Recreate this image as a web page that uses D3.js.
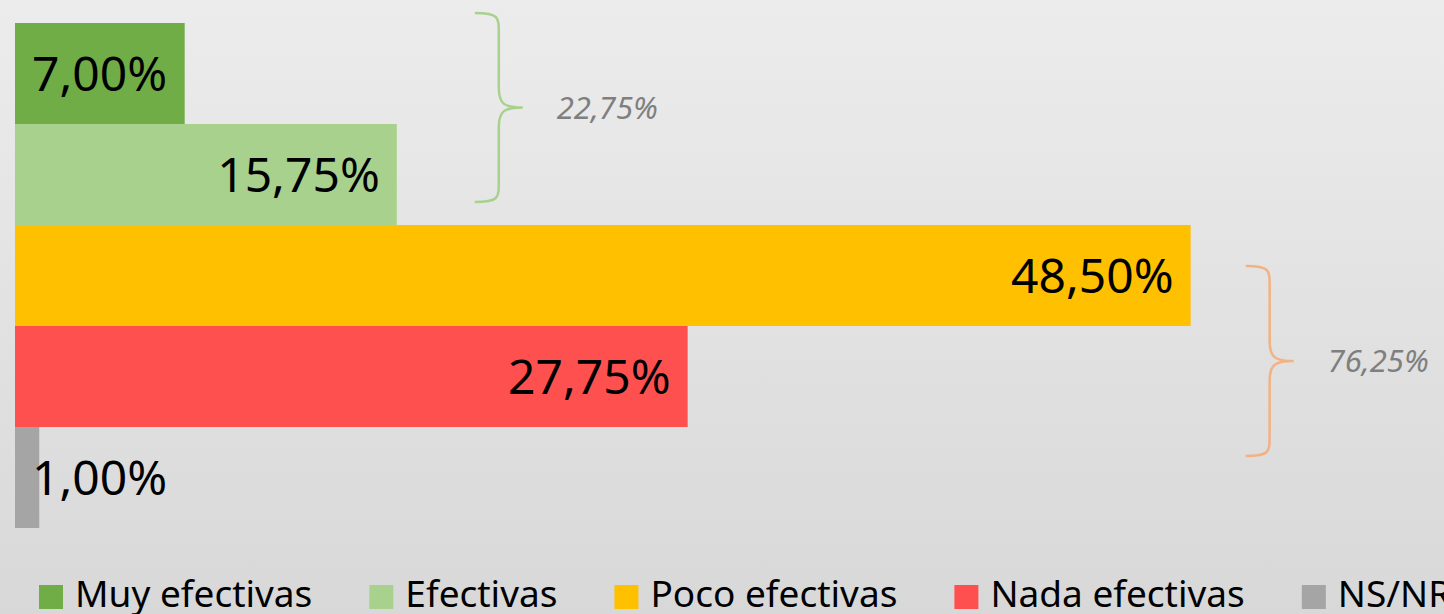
<!DOCTYPE html>
<html>
<head>
<meta charset="utf-8">
<script src="https://cdn.jsdelivr.net/npm/d3@7"></script>
<style>
  html, body { margin: 0; padding: 0; }
  body { width: 1444px; height: 614px; overflow: hidden; }
  svg { display: block; font-family: "Noto Sans", "Open Sans", sans-serif; }
</style>
</head>
<body>
<div id="plot_area"></div>
<script>
// data
var categories = ["Muy efectivas", "Efectivas", "Poco efectivas", "Nada efectivas", "NS/NR"];
var values = [7.00, 15.75, 48.50, 27.75, 1.00];
var colors = ["#70ad47", "#a9d18e", "#ffc000", "#ff5050", "#a5a5a5"];

// brace annotations: which bars they group, their total, colour
var braceGroups = [["Muy efectivas", "Efectivas"], ["Poco efectivas", "Nada efectivas"]];
var braceTotals = [22.75, 76.25];
var braceColors = ["#a9d18e", "#f4b183"];

var W = 1444, H = 614;
var fmt = function (v) { return v.toFixed(2).replace(".", ",") + "%"; };

var svg = d3.select("#plot_area").append("svg")
    .attr("width", W)
    .attr("height", H);

// background gradient
var grad = svg.append("defs").append("linearGradient")
    .attr("id", "bg").attr("x1", 0).attr("y1", 0).attr("x2", 0).attr("y2", 1);
grad.append("stop").attr("offset", "0%").attr("stop-color", "#ececec");
grad.append("stop").attr("offset", "100%").attr("stop-color", "#d8d8d8");
svg.append("rect").attr("width", W).attr("height", H).attr("fill", "url(#bg)");

// scales
var x = d3.scaleLinear().domain([0, 50]).range([15, 15 + 1212]);
var y = d3.scaleBand().domain(categories).range([23, 528]).padding(0);

// bars
svg.selectAll(".bar")
  .data(values)
  .enter()
  .append("rect")
    .attr("class", "bar")
    .attr("x", x(0))
    .attr("y", function (d, i) { return y(categories[i]); })
    .attr("width", function (d) { return x(d) - x(0); })
    .attr("height", y.bandwidth())
    .attr("fill", function (d, i) { return colors[i]; });

// value labels, inside end; pushed outside when the bar is too narrow
var labels = svg.selectAll(".lbl")
  .data(values)
  .enter()
  .append("text")
    .attr("class", "lbl")
    .attr("y", function (d, i) { return y(categories[i]) + y.bandwidth() / 2 + 17; })
    .attr("font-size", 48)
    .attr("fill", "#000")
    .text(fmt);

labels.each(function (d) {
  var t = d3.select(this);
  var w = this.getComputedTextLength();
  var barW = x(d) - x(0);
  if (w + 36 < barW) {
    t.attr("x", x(d) - 17).attr("text-anchor", "end");
  } else {
    t.attr("x", x(0) + 17).attr("text-anchor", "start");
  }
});

// curly braces
function bracePath(x0, top, bottom, depth) {
  var mid = (top + bottom) / 2;
  var xv = x0 + depth * 0.5, xt = x0 + depth, r = 20;
  return "M" + x0 + "," + top +
    " C" + xv + "," + top + " " + xv + "," + (top + 4) + " " + xv + "," + (top + r) +
    " L" + xv + "," + (mid - r) +
    " C" + xv + "," + (mid - 3) + " " + (xv + 6) + "," + mid + " " + xt + "," + mid +
    " C" + (xv + 6) + "," + mid + " " + xv + "," + (mid + 3) + " " + xv + "," + (mid + r) +
    " L" + xv + "," + (bottom - r) +
    " C" + xv + "," + (bottom - 4) + " " + xv + "," + bottom + " " + x0 + "," + bottom;
}

var braceOffsets = [{dx: 78, top: -10, bottom: -23}, {dx: 55, top: 41, bottom: 29}];

braceGroups.forEach(function (g, i) {
  var maxVal = d3.max(g, function (c) { return values[categories.indexOf(c)]; });
  var o = braceOffsets[i];
  var bx = x(maxVal) + o.dx;
  var top = y(g[0]) + o.top;
  var bottom = y(g[g.length - 1]) + y.bandwidth() + o.bottom;
  svg.append("path")
    .attr("d", bracePath(bx, top, bottom, 48))
    .attr("fill", "none")
    .attr("stroke", braceColors[i])
    .attr("stroke-width", 2.5);
  svg.append("text")
    .attr("x", bx + 82)
    .attr("y", (top + bottom) / 2 + 11)
    .attr("font-size", 31)
    .attr("font-style", "italic")
    .attr("fill", "#7f7f7f")
    .text(fmt(braceTotals[i]));
});

// legend
var legend = svg.append("g").attr("transform", "translate(39,0)");
var lx = 0;
categories.forEach(function (c, i) {
  legend.append("rect")
    .attr("x", lx).attr("y", 585)
    .attr("width", 24).attr("height", 24)
    .attr("fill", colors[i]);
  var t = legend.append("text")
    .attr("x", lx + 36).attr("y", 607)
    .attr("font-size", 37)
    .attr("fill", "#000")
    .text(c);
  lx += 36 + t.node().getComputedTextLength() + 57;
});
</script>
</body>
</html>
